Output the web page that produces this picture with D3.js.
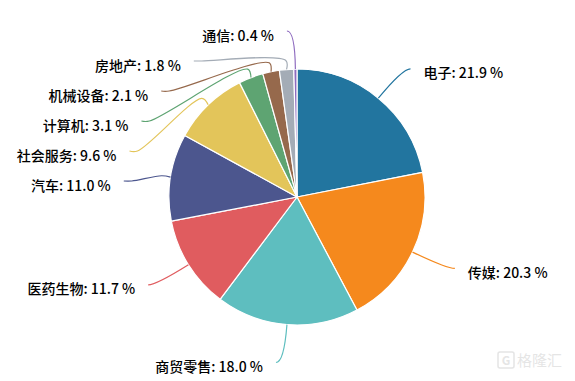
<!DOCTYPE html>
<html><head><meta charset="utf-8">
<script src="https://cdn.jsdelivr.net/npm/d3@7"></script>
<style>html,body{margin:0;padding:0;background:#fff;}svg{display:block;}</style>
</head><body>
<svg id="chart" width="575" height="381"></svg>
<script>
const categories = ["电子","传媒","商贸零售","医药生物","汽车","社会服务","计算机","机械设备","房地产","通信"];
const values = [21.9, 20.3, 18.0, 11.7, 11.0, 9.6, 3.1, 2.1, 1.8, 0.4];
const colors = ["#22759f","#f5891d","#5ebebf","#e05c5f","#4c568e","#e3c55a","#5ea472","#96694c","#a4acb6","#8e6bbf"];

const W = 575, H = 381;
const cx = 297, cy = 197, r = 128;
const len1 = 38, len2 = 8, gap = 13, minSpace = 30;

const svg = d3.select("#chart");
const g = svg.append("g");

const pie = d3.pie().sort(null).value(d => d)(values);
const arc = d3.arc().innerRadius(0).outerRadius(r);

g.append("g").attr("transform", `translate(${cx},${cy})`)
  .selectAll("path").data(pie).join("path")
  .attr("d", arc)
  .attr("fill", (d, i) => colors[i])
  .attr("stroke", "#fff").attr("stroke-width", 1.2).attr("stroke-linejoin", "round");

// label layout
const R2 = r + len1;
const items = pie.map((d, i) => {
  const a = (d.startAngle + d.endAngle) / 2;
  const u = [Math.sin(a), -Math.cos(a)];
  const side = Math.sin(a) >= 0 ? 1 : -1;
  return { i, a, u, side, p1: [cx + r * u[0], cy + r * u[1]], y0: cy + R2 * u[1] };
});
[1, -1].forEach(side => {
  const list = items.filter(d => d.side === side).sort((a, b) => a.y0 - b.y0);
  let last = -Infinity;
  list.forEach(d => { d.y = Math.max(d.y0, last + minSpace); last = d.y; });
});
items.forEach(d => {
  const dy = d.y - cy;
  let dx = Math.sqrt(Math.max(0, R2 * R2 - dy * dy));
  let x2 = cx + d.side * dx;
  if (d.side < 0) x2 = Math.min(x2, d.p1[0]); else x2 = Math.max(x2, d.p1[0]);
  d.p2 = [x2, d.y];
  d.p3 = [x2 + d.side * len2, d.y];
  d.shifted = Math.abs(d.y - d.y0) > 1;
});

const lineCR = d3.line().curve(d3.curveCatmullRom.alpha(0.5));
const lg = g.append("g");
items.forEach(d => {
  let path;
  if (!d.shifted) {
    path = `M${d.p1[0]},${d.p1[1]}Q${d.p2[0]},${d.p2[1]} ${d.p3[0]},${d.p3[1]}`;
  } else {
    const pE = [d.p1[0] + 9 * d.u[0], d.p1[1] + 9 * d.u[1]];
    path = lineCR([d.p1, pE, d.p2, d.p3]);
  }
  lg.append("path").attr("d", path).attr("fill", "none")
    .attr("stroke", colors[d.i]).attr("stroke-width", 1.2);
});

const tg = g.append("g")
  .attr("font-family", "'Noto Sans CJK SC','Noto Sans',sans-serif")
  .attr("font-size", 14).attr("font-weight", 500).attr("fill", "#000");
items.forEach(d => {
  tg.append("text")
    .attr("x", d.p3[0] + d.side * gap)
    .attr("y", d.y + 3.5)
    .attr("dominant-baseline", "central")
    .attr("text-anchor", d.side > 0 ? "start" : "end")
    .text(`${categories[d.i]}: ${values[d.i].toFixed(1)} %`);
});

// watermark
const wm = svg.append("g").attr("opacity", 0.3);
wm.append("rect").attr("x", 498).attr("y", 352).attr("width", 16).attr("height", 16).attr("rx", 2)
  .attr("fill", "none").attr("stroke", "#aaa").attr("stroke-width", 1.5);
wm.append("text").attr("x", 506).attr("y", 365).attr("text-anchor", "middle")
  .attr("font-family", "'Noto Sans CJK SC',sans-serif").attr("font-size", 12).attr("font-weight", "bold")
  .attr("fill", "#aaa").text("G");
wm.append("text").attr("x", 517).attr("y", 366)
  .attr("font-family", "'Noto Sans CJK SC',sans-serif").attr("font-size", 15)
  .attr("fill", "#aaa").text("格隆汇");
</script>
</body></html>
